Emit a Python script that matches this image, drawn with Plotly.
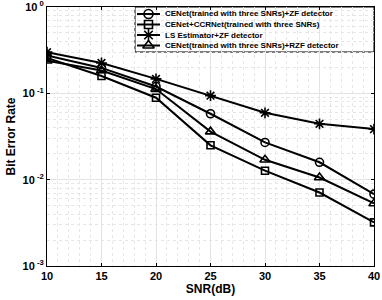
import plotly.graph_objects as go

snr = [10, 15, 20, 25, 30, 35, 40]
ber_cenet_zf = [0.275, 0.197, 0.120, 0.058, 0.027, 0.0159, 0.0068]
ber_cenet_ccr = [0.257, 0.159, 0.089, 0.025, 0.0127, 0.0071, 0.0032]
ber_ls_zf = [0.300, 0.225, 0.147, 0.094, 0.0595, 0.0444, 0.0385]
ber_cenet_rzf = [0.238, 0.184, 0.112, 0.036, 0.017, 0.0106, 0.0053]

names = [
    "CENet(trained with three SNRs)+ZF detector",
    "CENet+CCRNet(trained with three SNRs)",
    "LS Estimator+ZF detector",
    "CENet(trained with three SNRs)+RZF detector",
]
symbols = ["circle-open", "square-open", "asterisk-open", "triangle-up-open"]
series = [ber_cenet_zf, ber_cenet_ccr, ber_ls_zf, ber_cenet_rzf]
sizes = [8, 7, 9, 9]

FONT = "Liberation Sans, Arial, sans-serif"
W, H = 382, 300
ML, MR, MT, MB = 47, 8, 7, 34
PW, PH = W - ML - MR, H - MT - MB


def px_x(p):
    return (p - ML) / PW


def px_y(p):
    return (H - MB - p) / PH


fig = go.Figure()
for n, s, y, sz in zip(names, symbols, series, sizes):
    fig.add_trace(go.Scatter(
        x=snr, y=y, name=n, mode="lines+markers", showlegend=False,
        line=dict(color="black", width=2),
        marker=dict(symbol=s, size=sz, color="black", line=dict(color="black", width=1.6)),
    ))

# manual legend (compact, MATLAB-like)
box_l, box_r, box_t, box_b = 135, 374, 7, 52
fig.add_shape(type="rect", xref="paper", yref="paper",
              x0=px_x(box_l), x1=px_x(box_r), y0=px_y(box_b), y1=px_y(box_t),
              line=dict(color="black", width=1), fillcolor="white", layer="between")
row_y = [14, 24.5, 35, 45.5]
for n, s, sz, ry in zip(names, symbols, sizes, row_y):
    fig.add_trace(go.Scatter(
        x=[px_x(137), px_x(160)], y=[px_y(ry)] * 2, xaxis="x2", yaxis="y2",
        mode="lines", showlegend=False, hoverinfo="skip",
        line=dict(color="black", width=2)))
    fig.add_trace(go.Scatter(
        x=[px_x(148.5)], y=[px_y(ry)], xaxis="x2", yaxis="y2",
        mode="markers", showlegend=False, hoverinfo="skip",
        marker=dict(symbol=s, size=sz + 1, color="black", line=dict(color="black", width=1.6))))
    fig.add_annotation(x=px_x(163), y=px_y(ry), xref="paper", yref="paper",
                       text=n, showarrow=False, xanchor="left", yanchor="middle",
                       font=dict(size=8, family=FONT, weight="bold", color="black"))

fig.update_layout(
    width=W, height=H,
    margin=dict(l=ML, r=MR, t=MT, b=MB),
    paper_bgcolor="white", plot_bgcolor="white",
    font=dict(family=FONT, color="black", size=11, weight="bold"),
    showlegend=False,
    xaxis2=dict(overlaying="x", range=[0, 1], visible=False, fixedrange=True, anchor="y2"),
    yaxis2=dict(overlaying="y", range=[0, 1], visible=False, fixedrange=True, anchor="x2"),
)

fig.update_layout(xaxis=dict(
    range=[10, 40], tickvals=[10, 15, 20, 25, 30, 35, 40], automargin=False,
    showline=True, linecolor="black", linewidth=1, mirror="ticks",
    ticks="inside", ticklen=3, tickcolor="black", ticklabeloverflow="allow",
    showgrid=True, gridcolor="#e3e3e3", gridwidth=1,
    minor=dict(dtick=1, showgrid=True, gridcolor="#e6e6e6", griddash="dot", ticks=""),
    zeroline=False,
    title=dict(text="SNR(dB)", font=dict(size=12, weight="bold"), standoff=2),
    tickfont=dict(size=11, weight="bold"),
))
fig.update_layout(yaxis=dict(
    type="log", range=[-3, 0], automargin=False,
    tickvals=[1e-3, 1e-2, 1e-1, 1],
    ticktext=["10<sup> -3</sup>", "10<sup> -2</sup>", "10<sup> -1</sup>", "10<sup> 0</sup>"],
    showline=True, linecolor="black", linewidth=1, mirror="ticks",
    ticks="inside", ticklen=3, tickcolor="black", ticklabeloverflow="allow",
    showgrid=True, gridcolor="#e3e3e3", gridwidth=1,
    minor=dict(showgrid=True, gridcolor="#e6e6e6", griddash="dot", ticks="",
               tickvals=[m * 10 ** e for e in (-3, -2, -1) for m in range(2, 10)]),
    zeroline=False,
    title=dict(text="Bit Error Rate", font=dict(size=12, weight="bold"), standoff=4),
    tickfont=dict(size=11, weight="bold"),
))

fig.write_html("out.html", config={"displayModeBar": False},
               post_script="document.body.style.margin='0';document.body.style.overflow='hidden';")
